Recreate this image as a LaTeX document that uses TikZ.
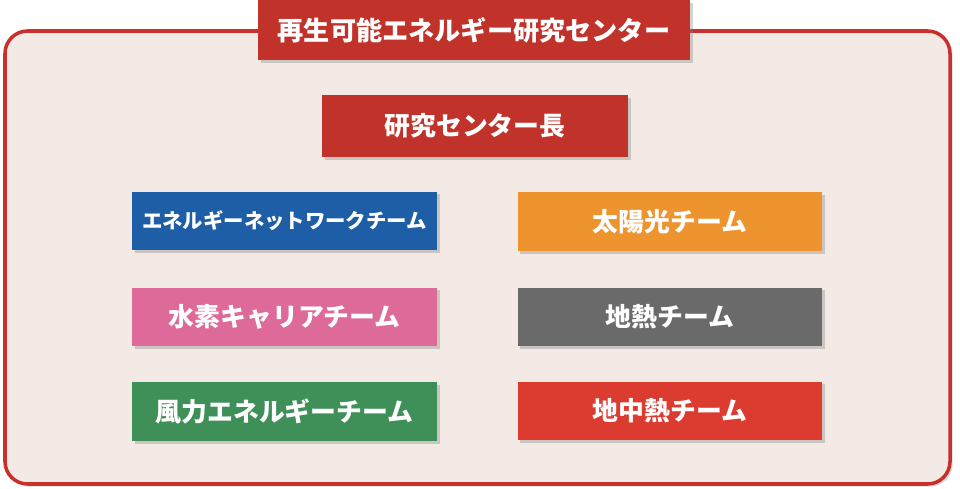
\documentclass[tikz,border=0pt]{standalone}
\usepackage{fontspec}
\newfontfamily\jpfont{Noto Sans CJK JP}
\usepackage{xcolor}
\usepackage{tikz}
\usetikzlibrary{positioning,shadows}

\definecolor{hdred}{HTML}{C1322A}
\definecolor{netblue}{HTML}{1D5EA6}
\definecolor{solorange}{HTML}{EE942F}
\definecolor{hpink}{HTML}{DD6A98}
\definecolor{geogray}{HTML}{6A6A6A}
\definecolor{windgreen}{HTML}{3E9058}
\definecolor{ghpred}{HTML}{DC3B2F}
\definecolor{framebg}{HTML}{F3EAE5}
\definecolor{framered}{HTML}{C9302C}

\begin{document}
\begin{tikzpicture}[x=0.02cm,y=-0.02cm,
    box/.style={draw=none, text=white, font=\jpfont\bfseries\fontsize{14.7}{17}\selectfont,
        minimum width=6.1cm, minimum height=1.2cm, inner sep=0pt,
        drop shadow={shadow xshift=1.5pt, shadow yshift=-1.5pt, opacity=0.35}},
    team/.style={box, minimum width=6.1cm, minimum height=1.18cm}]
    \useasboundingbox (0,0) rectangle (960,489);
    % frame
    \draw[framered, line width=2pt, fill=framebg, rounded corners=0.45cm,
        drop shadow={shadow xshift=1.5pt, shadow yshift=-1.5pt, opacity=0.3}]
        (5,31) rectangle (950,484);
    \node[box, fill=hdred, minimum width=8.64cm, minimum height=1.2cm,
        font=\jpfont\bfseries\fontsize{14.9}{17}\selectfont] (title) at (474,30) {再生可能エネルギー研究センター};
    \node[box, fill=hdred, minimum width=6.12cm, minimum height=1.24cm] (head) at (475,126) {研究センター長};
    % teams
    \node[team, fill=netblue, font=\jpfont\bfseries\fontsize{11.6}{13}\selectfont] (netteam) at (284.5,221) {エネルギーネットワークチーム};
    \node[team, fill=hpink] (h2team) at (284.5,317) {水素キャリアチーム};
    \node[team, fill=windgreen] (windteam) at (284.5,411.5) {風力エネルギーチーム};
    \node[team, fill=solorange] (solarteam) at (670,221.5) {太陽光チーム};
    \node[team, fill=geogray] (geoteam) at (670,317) {地熱チーム};
    \node[team, fill=ghpred] (ghpteam) at (670,411) {地中熱チーム};
\end{tikzpicture}
\end{document}
